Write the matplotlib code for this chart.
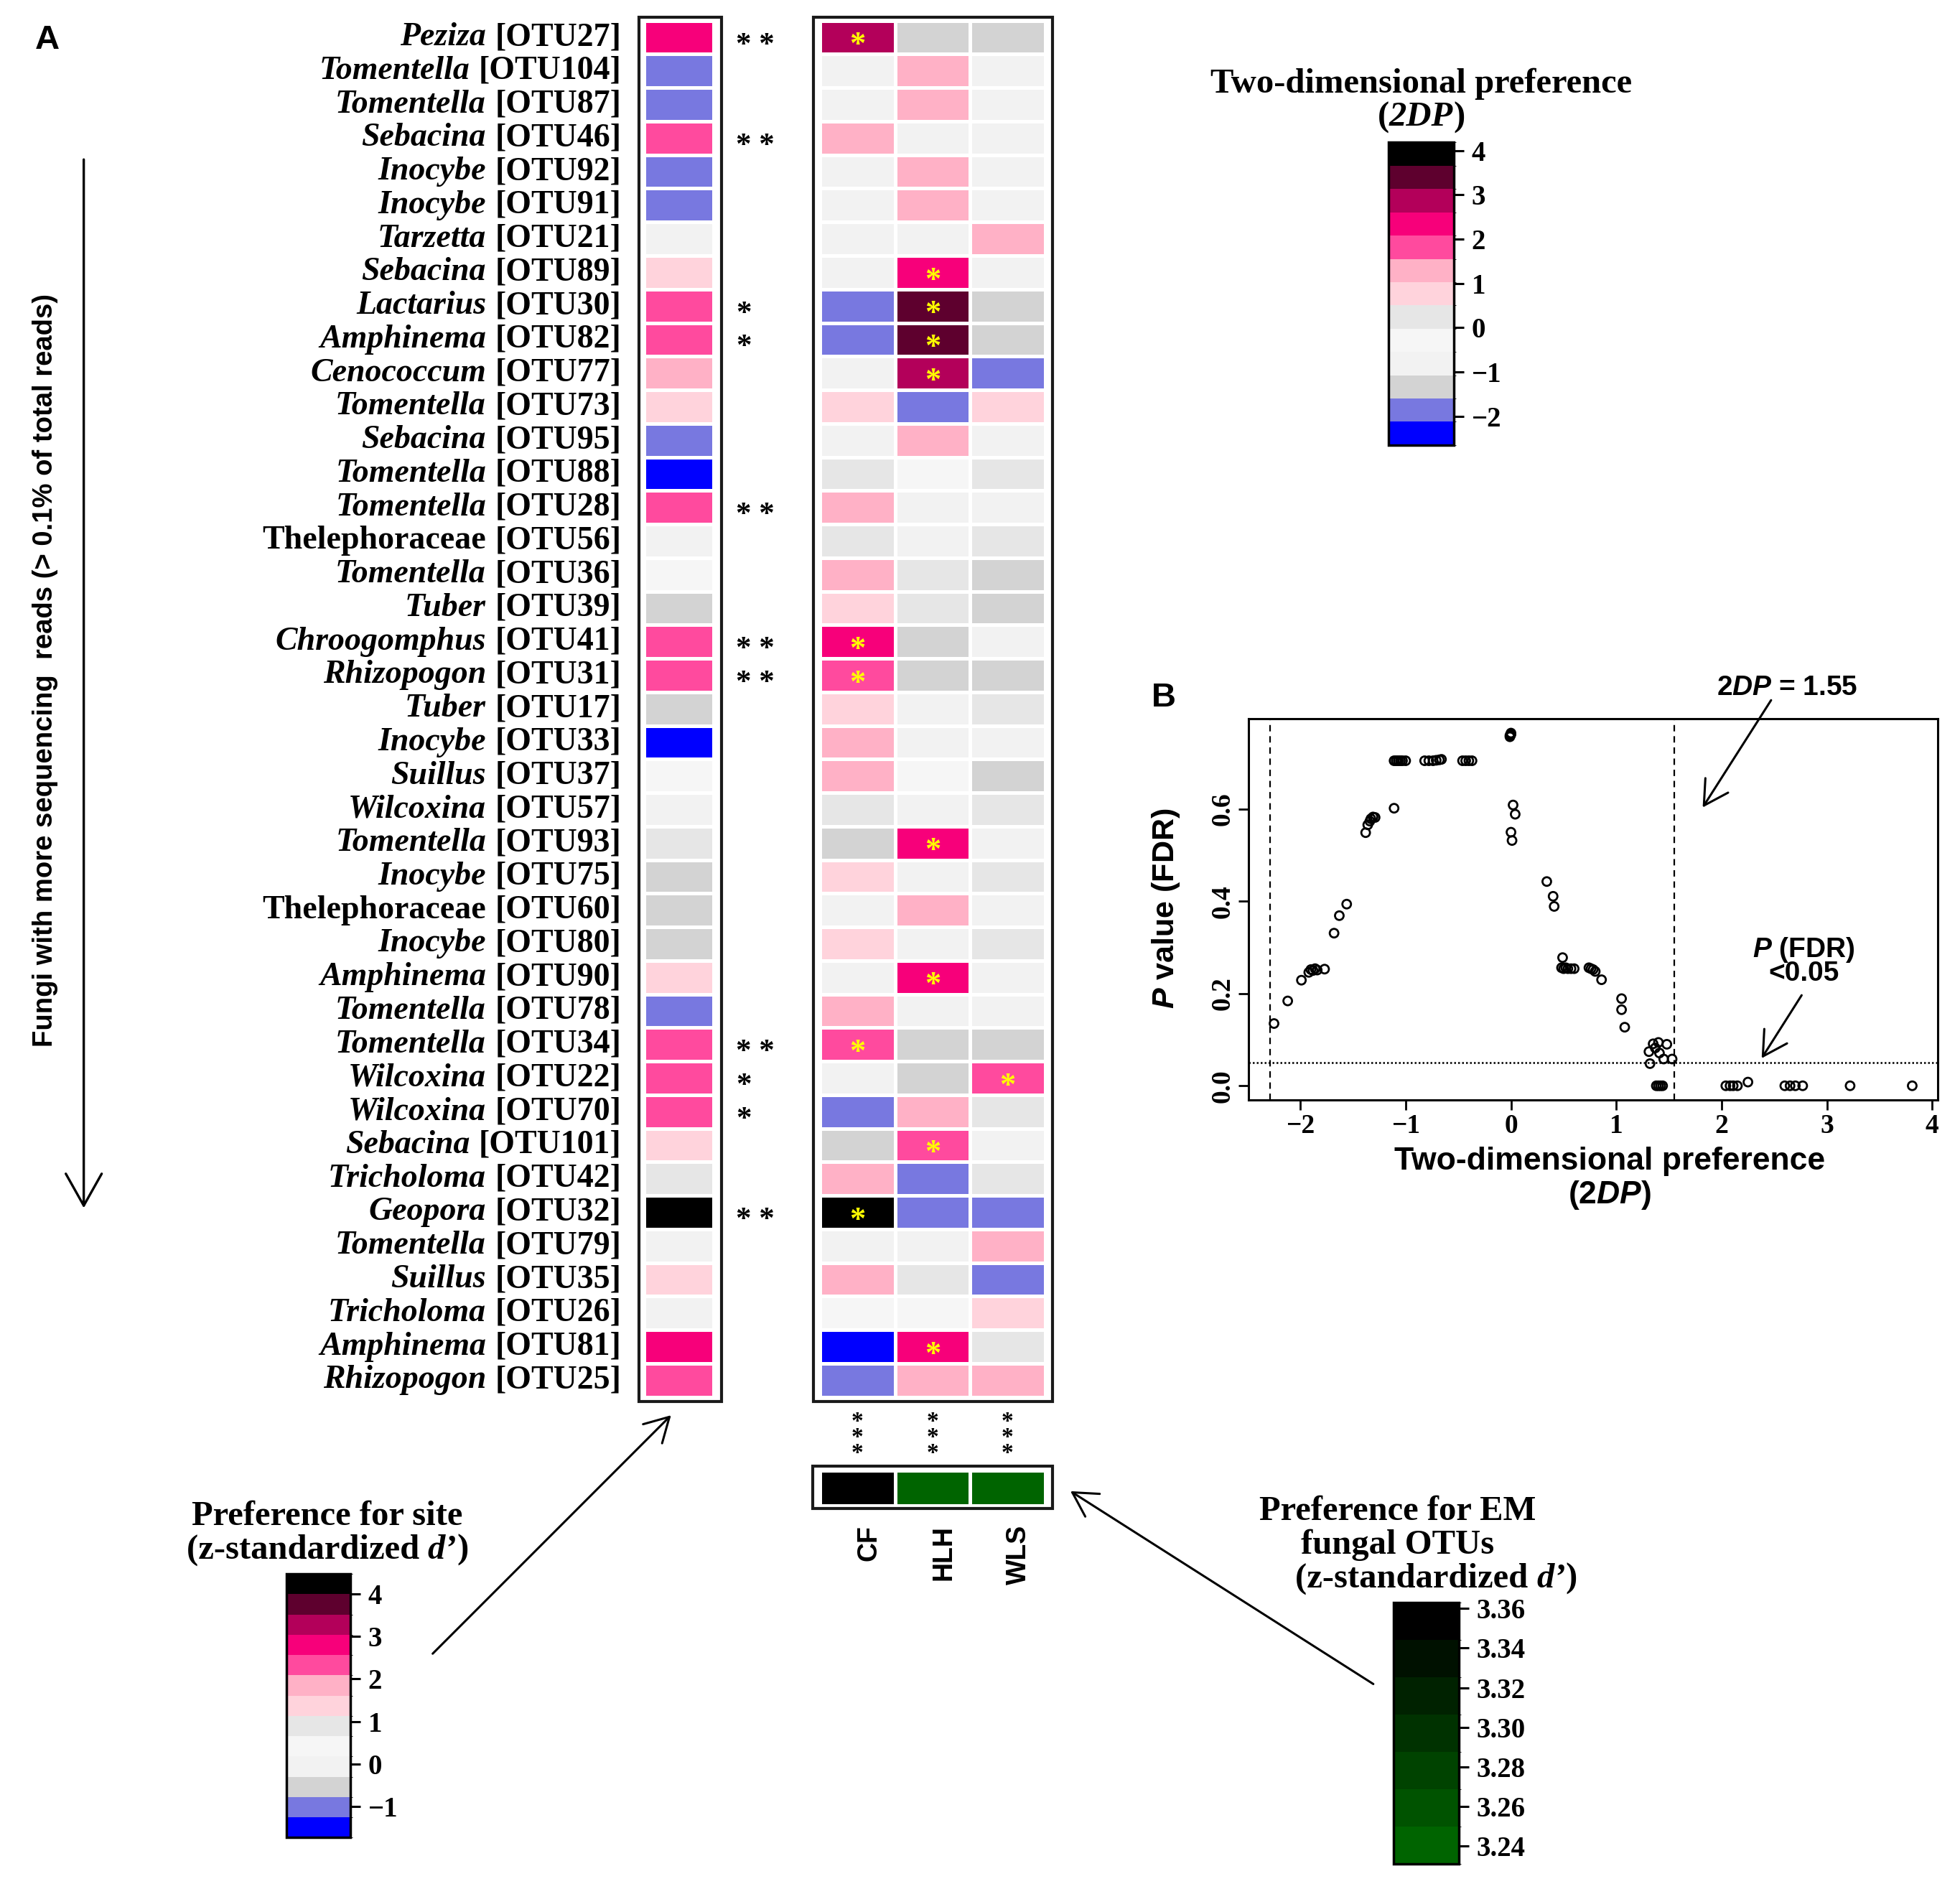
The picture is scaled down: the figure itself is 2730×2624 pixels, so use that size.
import numpy as np
import matplotlib
matplotlib.use("Agg")
import matplotlib.pyplot as plt
from matplotlib.colors import ListedColormap, BoundaryNorm
from matplotlib.cm import ScalarMappable
from matplotlib.patches import Rectangle, FancyArrowPatch
from matplotlib.offsetbox import TextArea, HPacker, AnnotationBbox

# ---------------- data ----------------
genera = ['Peziza', 'Tomentella', 'Tomentella', 'Sebacina', 'Inocybe', 'Inocybe', 'Tarzetta',
          'Sebacina', 'Lactarius', 'Amphinema', 'Cenococcum', 'Tomentella', 'Sebacina',
          'Tomentella', 'Tomentella', 'Thelephoraceae', 'Tomentella', 'Tuber', 'Chroogomphus',
          'Rhizopogon', 'Tuber', 'Inocybe', 'Suillus', 'Wilcoxina', 'Tomentella', 'Inocybe',
          'Thelephoraceae', 'Inocybe', 'Amphinema', 'Tomentella', 'Tomentella', 'Wilcoxina',
          'Wilcoxina', 'Sebacina', 'Tricholoma', 'Geopora', 'Tomentella', 'Suillus',
          'Tricholoma', 'Amphinema', 'Rhizopogon']
otu_ids = ['OTU27', 'OTU104', 'OTU87', 'OTU46', 'OTU92', 'OTU91', 'OTU21', 'OTU89', 'OTU30',
           'OTU82', 'OTU77', 'OTU73', 'OTU95', 'OTU88', 'OTU28', 'OTU56', 'OTU36', 'OTU39',
           'OTU41', 'OTU31', 'OTU17', 'OTU33', 'OTU37', 'OTU57', 'OTU93', 'OTU75', 'OTU60',
           'OTU80', 'OTU90', 'OTU78', 'OTU34', 'OTU22', 'OTU70', 'OTU101', 'OTU42', 'OTU32',
           'OTU79', 'OTU35', 'OTU26', 'OTU81', 'OTU25']
non_italic_names = ['Thelephoraceae']

# preference for site (z-standardized d')
site_pref = [2.80, -1.01, -1.01, 2.32, -1.01, -1.01, -0.06, 1.37, 2.32, 2.32, 1.85, 1.37, -1.01,
             -1.49, 2.32, -0.06, 0.41, -0.54, 2.32, 2.32, -0.54, -1.49, 0.41, -0.06, 0.89, -0.54,
             -0.54, -0.54, 1.37, -1.01, 2.32, 2.32, 2.32, 1.37, 0.89, 4.23, -0.06, 1.37, -0.06,
             2.80, 2.32]
site_signif = ['**', '', '', '**', '', '', '', '', '*', '*', '', '', '', '', '**', '', '', '',
               '**', '**', '', '', '', '', '', '', '', '', '', '', '**', '*', '*', '', '', '**',
               '', '', '', '', '']

# two-dimensional preference (2DP) per site
sites = ['CF', 'HLH', 'WLS']
pref_cf = [2.86, -0.81, -0.81, 1.29, -0.81, -0.81, -0.81, -0.81, -1.86, -1.86, -0.81, 0.76, -0.81,
           0.24, 1.29, 0.24, 1.29, 0.76, 2.34, 1.81, 0.76, 1.29, 1.29, 0.24, -1.34, 0.76, -0.81,
           0.76, -0.81, 1.29, 1.81, -0.81, -1.86, -1.34, 1.29, 3.91, -0.81, 1.29, -0.29, -2.39,
           -1.86]
pref_hlh = [-1.34, 1.29, 1.29, -0.81, 1.29, 1.29, -0.81, 2.34, 3.39, 3.39, 2.86, -1.86, 1.29,
            -0.29, -0.81, -0.81, 0.24, 0.24, -1.34, -1.34, -0.81, -0.81, -0.29, -0.81, 2.34,
            -0.81, 1.29, -0.81, 2.34, -0.81, -1.34, -1.34, 1.29, 1.81, -1.86, -1.86, -0.81, 0.24,
            -0.29, 2.34, 1.29]
pref_wls = [-1.34, -0.81, -0.81, -0.81, -0.81, -0.81, 1.29, -0.81, -1.34, -1.34, -1.86, 0.76,
            -0.81, 0.24, -0.81, 0.24, -1.34, -1.34, -0.81, -1.34, 0.24, -0.81, -1.34, 0.24,
            -0.81, 0.24, -0.81, 0.24, -0.81, -0.81, -1.34, 1.81, 0.24, -0.81, 0.24, -1.86, 1.29,
            -1.86, 0.76, 0.24, 1.29]
twodp_threshold = 1.55
lower_2dp_line = -2.29
p_threshold = 0.05

# preference of each site for EM fungal OTUs
em_pref = [3.36, 3.235, 3.235]
em_signif = ['***', '***', '***']

# colour-bar ticks
site_ticks = [-1, 0, 1, 2, 3, 4]
twodp_ticks = [-2, -1, 0, 1, 2, 3, 4]
em_ticks = [3.24, 3.26, 3.28, 3.30, 3.32, 3.34, 3.36]

# panel B: P value (FDR) vs 2DP
scatter_2dp = [-2.25, -2.12, -1.99, -1.92, -1.90, -1.88, -1.86, -1.84, -1.77, -1.68, -1.63, -1.56,
               -1.38, -1.36, -1.34, -1.33, -1.31, -1.29, -1.11, -1.11, -1.09, -1.07, -1.05, -1.03,
               -1.00, -0.82, -0.78, -0.74, -0.71, -0.68, -0.66, -0.46, -0.43, -0.40, -0.37, -0.01,
               0.00, -0.01, 0.00, 0.02, 0.04, 0.00, 0.01, 0.34, 0.40, 0.41, 0.49, 0.48, 0.50, 0.52,
               0.54, 0.57, 0.60, 0.74, 0.76, 0.78, 0.80, 0.86, 1.05, 1.05, 1.08, 1.31, 1.35, 1.40,
               1.48, 1.32, 1.41, 1.45, 1.53, 1.37, 1.38, 1.40, 1.42, 1.44, 2.04, 2.08, 2.11, 2.15,
               2.25, 2.60, 2.65, 2.70, 2.77, 3.22, 3.81]
scatter_p = [0.135, 0.184, 0.229, 0.246, 0.252, 0.250, 0.254, 0.251, 0.253, 0.331, 0.369, 0.394,
             0.549, 0.566, 0.574, 0.579, 0.583, 0.582, 0.602, 0.705, 0.705, 0.705, 0.705, 0.705,
             0.705, 0.705, 0.705, 0.705, 0.706, 0.707, 0.708, 0.705, 0.705, 0.705, 0.705, 0.760,
             0.765, 0.757, 0.762, 0.609, 0.589, 0.550, 0.532, 0.443, 0.411, 0.389, 0.278, 0.256,
             0.254, 0.256, 0.254, 0.254, 0.254, 0.256, 0.254, 0.252, 0.248, 0.230, 0.189, 0.165,
             0.127, 0.074, 0.091, 0.094, 0.090, 0.048, 0.071, 0.058, 0.058, 0.082, 0.0, 0.0, 0.0,
             0.0, 0.0, 0.0, 0.0, 0.0, 0.008, 0.0, 0.0, 0.0, 0.0, 0.0, 0.0]

# ---------------- styles ----------------
level_colors = ['#0000FF', '#7878E0', '#D3D3D3', '#F2F2F2', '#F6F6F6', '#E6E6E6', '#FFD3DC',
                '#FFB1C6', '#FF4A9E', '#F7007A', '#B3005A', '#5E002E', '#000000']
green_colors = ['#006400', '#005300', '#004300', '#003200', '#002200', '#001100', '#000000']

SERIF = 'Liberation Serif'
SANS = 'Liberation Sans'

plt.rcParams['font.family'] = [SERIF, 'DejaVu Serif']
plt.rcParams['font.weight'] = 'bold'
plt.rcParams['mathtext.fontset'] = 'custom'
plt.rcParams['mathtext.it'] = 'Liberation Sans:italic:bold'
plt.rcParams['mathtext.rm'] = 'Liberation Sans:bold'
plt.rcParams['mathtext.bf'] = 'Liberation Sans:bold'

W_PX, H_PX, DPI = 2730, 2624, 100
SC = W_PX / 1568.0
H_D = H_PX / SC


def fx(x):
    return x / 1568.0


def fy(y):
    return 1.0 - y / H_D


def rect(x0, y0, x1, y1):
    return [fx(x0), fy(y1), fx(x1) - fx(x0), fy(y0) - fy(y1)]


fig = plt.figure(figsize=(W_PX / DPI, H_PX / DPI), dpi=DPI)


def rich(parts, x, y, align=(0.5, 0.5), sep=0):
    boxes = [TextArea(s, textprops=tp) for s, tp in parts]
    pk = HPacker(children=boxes, align='baseline', pad=0, sep=sep)
    ab = AnnotationBbox(pk, (x, y), xycoords='figure fraction', box_alignment=align,
                        frameon=False, pad=0)
    fig.add_artist(ab)
    return ab


def star(xf, yf_center, size, color, ha='center', text='*'):
    em = size * DPI / 72.0 / H_PX
    fig.text(xf, yf_center - 0.5 * em, text, ha=ha, va='baseline', fontsize=size,
             color=color, family=SERIF, fontweight='bold')


def box(x0, y0, x1, y1, lw=3.0):
    fig.add_artist(Rectangle((fx(x0), fy(y1)), fx(x1) - fx(x0), fy(y0) - fy(y1),
                             transform=fig.transFigure, fill=False, lw=lw, ec='#1a1a1a'))


def arrow(p0, p1, lw=2.2, scale=30):
    fig.add_artist(FancyArrowPatch((fx(p0[0]), fy(p0[1])), (fx(p1[0]), fy(p1[1])),
                                   transform=fig.transFigure,
                                   arrowstyle='->,head_length=0.8,head_width=0.45',
                                   mutation_scale=scale, lw=lw, color='black'))


n_rows = len(genera)
cmap_lv = ListedColormap(level_colors)
site_bounds = np.linspace(-1.73, 4.47, len(level_colors) + 1)
twodp_bounds = np.linspace(-2.65, 4.18, len(level_colors) + 1)
norm_site = BoundaryNorm(site_bounds, cmap_lv.N)
norm_2dp = BoundaryNorm(twodp_bounds, cmap_lv.N)
cmap_g = ListedColormap(green_colors)
em_bounds = np.linspace(3.231, 3.363, len(green_colors) + 1)
norm_g = BoundaryNorm(em_bounds, cmap_g.N)

# ---------------- panel A: site preference column ----------------
ax_site = fig.add_axes(rect(515, 16.5, 571, 1117.5))
ax_site.pcolormesh(np.array(site_pref).reshape(-1, 1), cmap=cmap_lv, norm=norm_site,
                   edgecolors='white', linewidth=2.5)
ax_site.set_xlim(0, 1)
ax_site.set_ylim(n_rows, 0)
ax_site.axis('off')
box(511, 14, 577, 1121)

to_fig_s = ax_site.transData + fig.transFigure.inverted()
LAB_FS = 33
for i, (g, o) in enumerate(zip(genera, otu_ids)):
    _, yf = to_fig_s.transform((0.5, i + 0.5))
    gp = dict(family=SERIF, weight='bold', size=LAB_FS,
              style='normal' if g in non_italic_names else 'italic')
    rich([(g, gp), ('[' + o + ']', dict(family=SERIF, weight='bold', size=LAB_FS))],
         fx(497), yf, align=(1, 0.5), sep=9)
    if site_signif[i]:
        star(fx(589), yf, 31, 'black', ha='left', text=' '.join(site_signif[i]))

# ---------------- panel A: 2DP heatmap ----------------
heat = np.column_stack([pref_cf, pref_hlh, pref_wls])
ax_heat = fig.add_axes(rect(656, 16.5, 836, 1117.5))
ax_heat.pcolormesh(heat, cmap=cmap_lv, norm=norm_2dp, edgecolors='white', linewidth=2.5)
ax_heat.set_xlim(0, 3)
ax_heat.set_ylim(n_rows, 0)
ax_heat.axis('off')
box(651, 14, 842, 1121)
to_fig_h = ax_heat.transData + fig.transFigure.inverted()
for i in range(n_rows):
    for j in range(len(sites)):
        if heat[i, j] >= twodp_threshold:
            xf, yf = to_fig_h.transform((j + 0.5, i + 0.5))
            star(xf, yf, 32, '#FFFF00')

# ---------------- EM preference row ----------------
ax_g = fig.add_axes(rect(656, 1176.5, 836, 1204.5))
ax_g.pcolormesh(np.array(em_pref).reshape(1, -1), cmap=cmap_g, norm=norm_g,
                edgecolors='white', linewidth=2.5)
ax_g.set_xlim(0, 3)
ax_g.set_ylim(1, 0)
ax_g.axis('off')
box(650, 1173, 842, 1207)
to_fig_g = ax_g.transData + fig.transFigure.inverted()
for j, s in enumerate(sites):
    xf, _ = to_fig_g.transform((j + 0.5, 0.5))
    fig.text(xf, fy(1150), '\n'.join(em_signif[j]), ha='center', va='center',
             fontsize=24, family=SERIF, fontweight='bold', linespacing=0.62)
    fig.text(xf + fx(9), fy(1220), s, rotation=90, ha='center', va='top',
             family=SANS, fontweight='bold', fontsize=27)

# ---------------- left arrow + label ----------------
arrow((67, 126), (67, 968), lw=2.4, scale=40)
fig.text(fx(36), fy(536), 'Fungi with more sequencing  reads (> 0.1% of total reads)',
         rotation=90, ha='center', va='center', family=SANS, fontweight='bold',
         fontsize=27.5)
fig.text(fx(38), fy(32), 'A', ha='center', va='center', family=SANS, fontweight='bold',
         fontsize=34)
fig.text(fx(931), fy(558), 'B', ha='center', va='center', family=SANS, fontweight='bold',
         fontsize=34)

# ---------------- colour bars ----------------
TFS = 35
SER_B = dict(family=SERIF, weight='bold', size=TFS)
SER_BI = dict(family=SERIF, weight='bold', size=TFS, style='italic')


def make_cbar(r, cmap, norm, ticks, fmt=None):
    cax = fig.add_axes(r)
    cb = fig.colorbar(ScalarMappable(norm=norm, cmap=cmap), cax=cax, ticks=ticks)
    cb.outline.set_linewidth(2.5)
    cax.tick_params(length=10, width=2.2, labelsize=28, pad=8)
    if fmt:
        cax.set_yticklabels([fmt % t for t in ticks])
    for lbl in cax.get_yticklabels():
        lbl.set_fontfamily(SERIF)
        lbl.set_fontweight('bold')
    return cb


make_cbar(rect(229, 1259, 280, 1470), cmap_lv, norm_site, site_ticks)
fig.text(fx(262), fy(1213), 'Preference for site', ha='center', va='center',
         family=SERIF, fontweight='bold', fontsize=TFS)
rich([('(z-standardized ', SER_B), ('d’', SER_BI), (')', SER_B)], fx(262), fy(1240))
arrow((345, 1324), (538, 1131), lw=2.2, scale=30)

make_cbar(rect(1111, 114, 1163, 356), cmap_lv, norm_2dp, twodp_ticks)
fig.text(fx(1137), fy(67), 'Two-dimensional preference', ha='center', va='center',
         family=SERIF, fontweight='bold', fontsize=TFS)
rich([('(', SER_B), ('2DP', SER_BI), (')', SER_B)], fx(1137), fy(94))

make_cbar(rect(1115, 1282, 1167, 1491), cmap_g, norm_g, em_ticks, fmt='%.2f')
fig.text(fx(1118), fy(1209), 'Preference for EM', ha='center', va='center', family=SERIF,
         fontweight='bold', fontsize=TFS)
fig.text(fx(1118), fy(1236), 'fungal OTUs', ha='center', va='center', family=SERIF,
         fontweight='bold', fontsize=TFS)
rich([('(z-standardized ', SER_B), ('d’', SER_BI), (')', SER_B)], fx(1149), fy(1263))
arrow((1100, 1348), (855, 1192), lw=2.2, scale=30)

# ---------------- panel B ----------------
axB = fig.add_axes(rect(999, 575, 1550, 880))
axB.scatter(scatter_2dp, scatter_p, s=75, facecolors='none', edgecolors='black',
            linewidths=2.0, zorder=3)
axB.axvline(lower_2dp_line, ls=(0, (4, 3)), color='black', lw=1.6)
axB.axvline(twodp_threshold, ls=(0, (4, 3)), color='black', lw=1.6)
axB.axhline(p_threshold, ls=(0, (1, 1.2)), color='black', lw=1.8)
axB.set_xlim(-2.49, 4.05)
axB.set_ylim(-0.031, 0.796)
axB.set_xticks(range(-2, 5))
axB.set_xticklabels([str(v) if v >= 0 else '\u2212' + str(-v) for v in range(-2, 5)])
axB.set_yticks([0, 0.2, 0.4, 0.6])
axB.set_yticklabels(['0.0', '0.2', '0.4', '0.6'])
axB.tick_params(labelsize=27, length=10, width=2, direction='out')
for lbl in axB.get_yticklabels():
    lbl.set_rotation(90)
    lbl.set_va('center')
for lbl in axB.get_xticklabels() + axB.get_yticklabels():
    lbl.set_fontfamily(SERIF)
    lbl.set_fontweight('bold')
for sp in axB.spines.values():
    sp.set_linewidth(2.2)

fig.text(fx(933), fy(727), r'$\mathit{P}$ value (FDR)', rotation=90, ha='center',
         va='center', family=SANS, fontweight='bold', fontsize=31)
fig.text(fx(1288), fy(929), 'Two-dimensional preference', ha='center', va='center',
         family=SANS, fontweight='bold', fontsize=32)
fig.text(fx(1288), fy(956), r'($\mathit{2DP}$)', ha='center', va='center', family=SANS,
         fontweight='bold', fontsize=32)
fig.text(fx(1430), fy(550), r'$\mathit{2DP}$ = 1.55', ha='center', va='center', family=SANS,
         fontweight='bold', fontsize=28)
fig.text(fx(1443), fy(760), r'$\mathit{P}$ (FDR)', ha='center', va='center', family=SANS,
         fontweight='bold', fontsize=28)
fig.text(fx(1443), fy(779), '<0.05', ha='center', va='center', family=SANS,
         fontweight='bold', fontsize=28)
axB.annotate('', xy=(1.81, 0.60), xytext=(2.48, 0.84), annotation_clip=False,
             arrowprops=dict(arrowstyle='->,head_length=0.8,head_width=0.45',
                             mutation_scale=30, lw=2.2, color='black'))
axB.annotate('', xy=(2.37, 0.056), xytext=(2.77, 0.20), annotation_clip=False,
             arrowprops=dict(arrowstyle='->,head_length=0.8,head_width=0.45',
                             mutation_scale=30, lw=2.2, color='black'))

fig.savefig('out.png', dpi=DPI, facecolor='white')
